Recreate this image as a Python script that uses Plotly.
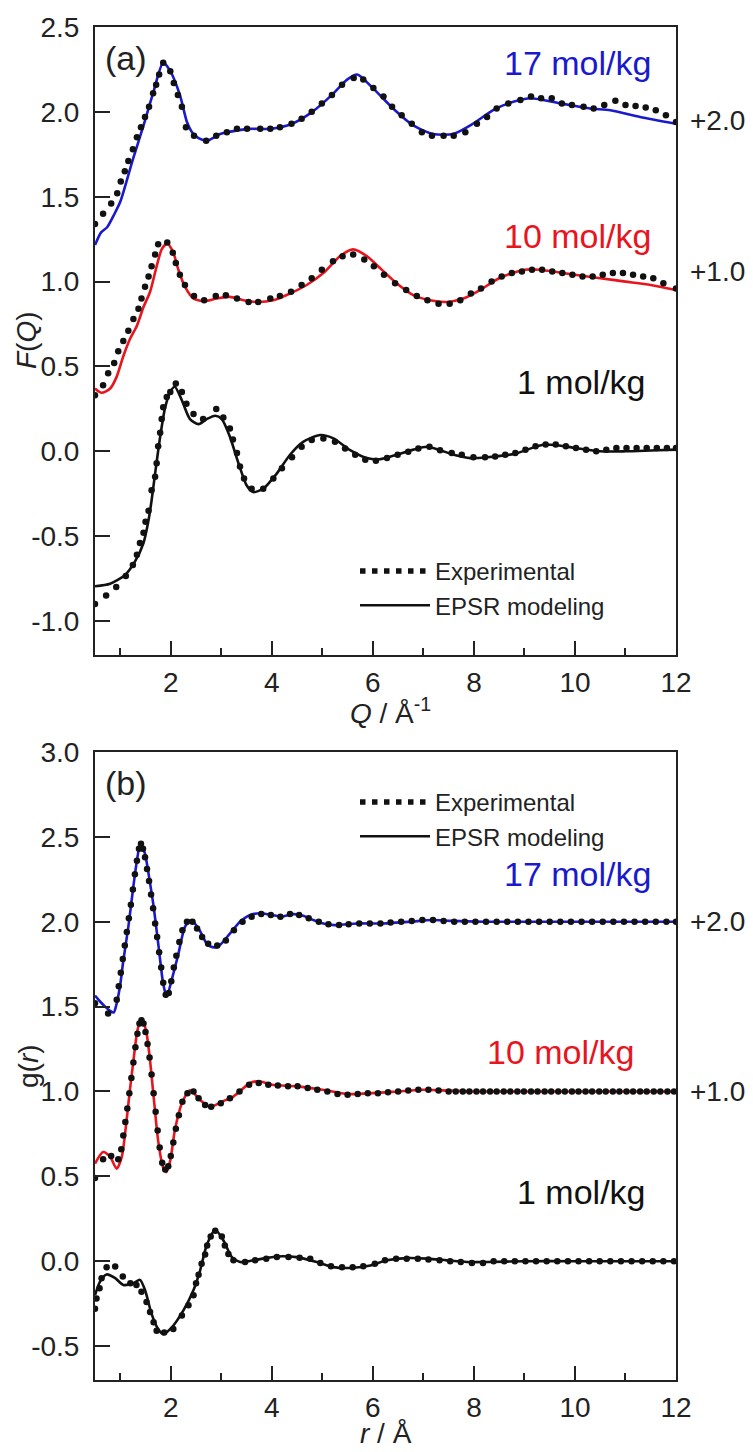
import plotly.graph_objects as go

# ---------------- DATA ----------------
# Panel (a): F(Q), raw values (offsets applied when plotting)
OFFSETS = {"17": 2.0, "10": 1.0, "1": 0.0}

# 17 mol/kg F(Q) – EPSR model
FQ17_MOD_Q = [0.5, 0.62, 0.74, 0.87, 1.0, 1.25, 1.45, 1.65, 1.85, 1.99, 2.18, 2.32, 2.42, 2.55, 2.72, 2.98,
              3.31, 3.57, 3.97, 4.40, 4.80, 5.19, 5.49, 5.69, 6.0, 6.40, 6.80, 7.19, 7.59, 7.98, 8.38, 8.68,
              9.11, 9.71, 10.30, 10.70, 11.29, 12.0]
FQ17_MOD_F = [-0.785, -0.71, -0.68, -0.61, -0.53, -0.28, -0.09, 0.11, 0.29, 0.24, 0.10, -0.06, -0.12, -0.155,
              -0.17, -0.13, -0.11, -0.10, -0.10, -0.07, 0.00, 0.10, 0.19, 0.22, 0.14, 0.02, -0.08, -0.13, -0.13,
              -0.07, 0.01, 0.05, 0.08, 0.05, 0.02, 0.01, -0.03, -0.07]
# 17 mol/kg F(Q) – experimental
FQ17_EXP_Q = [0.5, 0.66, 0.82, 0.94, 1.01, 1.09, 1.16, 1.25, 1.33, 1.41, 1.49, 1.57, 1.65, 1.71, 1.77, 1.85,
              1.99, 2.06, 2.14, 2.22, 2.30, 2.46, 2.70, 2.90, 3.11, 3.31, 3.51, 3.77, 3.97, 4.16, 4.39, 4.59,
              4.79, 4.99, 5.19, 5.39, 5.62, 5.81, 6.01, 6.21, 6.38, 6.57, 6.77, 6.97, 7.17, 7.40, 7.60, 7.83,
              8.06, 8.26, 8.45, 8.68, 8.92, 9.13, 9.33, 9.54, 9.74, 9.94, 10.17, 10.37, 10.58, 10.80, 11.0,
              11.2, 11.4, 11.6, 11.8, 12.0]
FQ17_EXP_F = [-0.66, -0.60, -0.54, -0.48, -0.41, -0.35, -0.29, -0.22, -0.15, -0.09, -0.03, 0.03, 0.11, 0.16,
              0.22, 0.29, 0.24, 0.17, 0.10, 0.03, -0.09, -0.14, -0.17, -0.14, -0.12, -0.10, -0.10, -0.10,
              -0.10, -0.09, -0.07, -0.04, 0.00, 0.05, 0.10, 0.16, 0.20, 0.19, 0.14, 0.09, 0.03, -0.02, -0.07,
              -0.12, -0.14, -0.14, -0.14, -0.12, -0.07, -0.03, 0.02, 0.05, 0.07, 0.09, 0.08, 0.08, 0.05, 0.04,
              0.03, 0.02, 0.04, 0.065, 0.04, 0.035, 0.025, 0.01, -0.02, -0.06]

# 10 mol/kg F(Q)
FQ10_MOD_Q = [0.5, 0.63, 0.80, 0.93, 1.06, 1.19, 1.33, 1.46, 1.59, 1.72, 1.82, 1.93, 2.05, 2.15, 2.28, 2.45,
              2.68, 2.91, 3.17, 3.44, 3.70, 4.03, 4.36, 4.69, 5.02, 5.35, 5.61, 5.88, 6.14, 6.47, 6.80, 7.13,
              7.46, 7.79, 8.12, 8.50, 9.0, 9.3, 10.0, 10.5, 11.0, 11.5, 12.0]
FQ10_MOD_F = [-0.63, -0.655, -0.63, -0.56, -0.44, -0.34, -0.26, -0.15, -0.06, 0.09, 0.19, 0.225, 0.17, 0.07,
              -0.03, -0.10, -0.115, -0.10, -0.09, -0.11, -0.12, -0.11, -0.07, -0.02, 0.05, 0.15, 0.19, 0.15,
              0.08, -0.01, -0.08, -0.11, -0.12, -0.10, -0.05, 0.02, 0.07, 0.07, 0.04, 0.02, 0.00, -0.02, -0.05]
FQ10_EXP_Q = [0.5, 0.66, 0.76, 0.88, 0.96, 1.06, 1.16, 1.26, 1.36, 1.42, 1.49, 1.56, 1.62, 1.69, 1.75, 1.93,
              2.04, 2.10, 2.18, 2.28, 2.46, 2.66, 2.89, 3.09, 3.31, 3.54, 3.73, 3.97, 4.16, 4.38, 4.59, 4.79,
              4.99, 5.21, 5.40, 5.61, 5.83, 6.02, 6.22, 6.44, 6.66, 6.87, 7.08, 7.30, 7.52, 7.73, 7.94, 8.14,
              8.35, 8.55, 8.75, 8.95, 9.15, 9.35, 9.55, 9.75, 9.95, 10.15, 10.35, 10.55, 10.75, 10.95, 11.15,
              11.35, 11.55, 11.75, 12.0]
FQ10_EXP_F = [-0.67, -0.61, -0.54, -0.48, -0.41, -0.35, -0.29, -0.22, -0.16, -0.10, -0.03, 0.03, 0.09, 0.16,
              0.22, 0.23, 0.17, 0.11, 0.04, -0.02, -0.085, -0.11, -0.085, -0.08, -0.10, -0.12, -0.12, -0.10,
              -0.085, -0.06, -0.02, 0.02, 0.07, 0.12, 0.15, 0.16, 0.13, 0.09, 0.04, -0.01, -0.05, -0.085,
              -0.11, -0.13, -0.13, -0.11, -0.07, -0.04, 0.00, 0.03, 0.05, 0.06, 0.07, 0.07, 0.06, 0.05, 0.04,
              0.03, 0.03, 0.04, 0.05, 0.05, 0.04, 0.03, 0.02, -0.01, -0.04]

# 1 mol/kg F(Q)
FQ1_MOD_Q = [0.5, 0.80, 1.09, 1.29, 1.46, 1.56, 1.62, 1.69, 1.79, 1.89, 1.99, 2.08, 2.22, 2.38, 2.55, 2.71,
             2.88, 3.01, 3.17, 3.34, 3.50, 3.63, 3.83, 4.10, 4.36, 4.62, 4.96, 5.22, 5.55, 5.88, 6.14, 6.47,
             6.80, 7.07, 7.33, 7.60, 7.93, 8.26, 8.8, 9.4, 10.0, 10.5, 11.0, 11.5, 12.0]
FQ1_MOD_F = [-0.795, -0.78, -0.73, -0.65, -0.54, -0.405, -0.29, -0.13, 0.086, 0.26, 0.35, 0.38, 0.30, 0.19,
             0.16, 0.19, 0.21, 0.19, 0.086, -0.07, -0.20, -0.24, -0.22, -0.13, -0.02, 0.056, 0.096, 0.076,
             0.007, -0.04, -0.047, -0.02, 0.01, 0.027, 0.007, -0.02, -0.04, -0.035, -0.015, 0.04, 0.02, 0.0,
             0.0, 0.005, 0.01]
FQ1_EXP_Q = [0.5, 0.72, 0.92, 1.11, 1.25, 1.33, 1.39, 1.46, 1.50, 1.56, 1.62, 1.69, 1.72, 1.75, 1.79, 1.82,
             1.85, 1.92, 1.99, 2.10, 2.22, 2.31, 2.45, 2.64, 2.90, 3.04, 3.17, 3.23, 3.31, 3.37, 3.45, 3.60,
             3.83, 4.03, 4.20, 4.40, 4.59, 4.79, 5.02, 5.25, 5.45, 5.65, 5.85, 6.06, 6.28, 6.49, 6.70, 6.90,
             7.12, 7.33, 7.56, 7.76, 7.99, 8.22, 8.42, 8.62, 8.82, 9.02, 9.22, 9.42, 9.62, 9.82, 10.02, 10.22,
             10.42, 10.62, 10.82, 11.02, 11.22, 11.42, 11.62, 11.82, 12.0]
FQ1_EXP_F = [-0.90, -0.85, -0.80, -0.735, -0.67, -0.61, -0.54, -0.48, -0.415, -0.35, -0.23, -0.15, -0.07,
             0.03, 0.11, 0.19, 0.26, 0.32, 0.35, 0.40, 0.35, 0.28, 0.22, 0.19, 0.25, 0.20, 0.135, 0.07, -0.01,
             -0.09, -0.16, -0.22, -0.22, -0.16, -0.10, -0.035, 0.027, 0.067, 0.076, 0.056, 0.017, -0.02,
             -0.05, -0.055, -0.04, -0.02, -0.003, 0.017, 0.027, 0.007, -0.01, -0.02, -0.035, -0.035, -0.03,
             -0.02, -0.01, 0.01, 0.03, 0.04, 0.04, 0.03, 0.02, 0.01, 0.0, 0.01, 0.02, 0.02, 0.02, 0.02, 0.02,
             0.02, 0.02]

# Panel (b): g(r)
GR17_MOD_R = [0.5, 0.6, 0.7, 0.8, 0.87, 0.93, 1.0, 1.06, 1.16, 1.26, 1.33, 1.40, 1.49, 1.58, 1.66, 1.76,
              1.85, 1.92, 2.02, 2.15, 2.28, 2.40, 2.55, 2.74, 2.92, 3.17, 3.37, 3.57, 3.77, 4.0, 4.2, 4.43,
              4.62, 4.82, 5.02, 5.25, 5.48, 5.68, 6.2, 6.74, 7.17, 7.53, 8.2, 9.0, 10.0, 11.0, 12.0]
GR17_MOD_G = [-0.435, -0.47, -0.50, -0.525, -0.535, -0.48, -0.37, -0.23, -0.03, 0.21, 0.36, 0.465, 0.40,
              0.245, 0.09, -0.15, -0.365, -0.44, -0.34, -0.19, -0.03, 0.01, -0.04, -0.14, -0.15, -0.07, 0.0,
              0.04, 0.05, 0.04, 0.03, 0.045, 0.035, 0.01, -0.01, -0.02, -0.015, -0.01, -0.01, 0.0, 0.01,
              0.005, 0.0, 0.0, 0.0, 0.0, 0.0]
GR17_EXP_R = [0.50, 0.76, 0.93, 0.97, 1.01, 1.05, 1.09, 1.13, 1.17, 1.21, 1.25, 1.29, 1.33, 1.37, 1.41, 1.45,
              1.49, 1.53, 1.57, 1.61, 1.65, 1.69, 1.73, 1.77, 1.81, 1.85, 1.90, 1.96, 2.01, 2.06, 2.11, 2.17,
              2.23, 2.32, 2.43, 2.52, 2.62, 2.74, 2.92, 3.09, 3.25, 3.42, 3.60, 3.79, 3.98, 4.17, 4.36, 4.54,
              4.73, 4.93, 5.12, 5.33, 5.52, 5.73, 5.94, 6.15, 6.35, 6.56, 6.77, 6.98, 7.19, 7.40, 7.61, 7.82,
              8.03, 8.24, 8.45, 8.66, 8.87, 9.08, 9.29, 9.50, 9.71, 9.92, 10.13, 10.34, 10.55, 10.76, 10.97,
              11.18, 11.39, 11.60, 11.81, 12.0]
GR17_EXP_G = [-0.48, -0.54, -0.46, -0.38, -0.30, -0.22, -0.14, -0.06, 0.02, 0.10, 0.19, 0.28, 0.36, 0.43,
              0.46, 0.43, 0.38, 0.31, 0.24, 0.16, 0.08, -0.01, -0.09, -0.18, -0.27, -0.36, -0.43, -0.42, -0.35,
              -0.27, -0.20, -0.12, -0.05, 0.0, 0.0, -0.04, -0.09, -0.13, -0.14, -0.11, -0.05, 0.0, 0.03, 0.045,
              0.04, 0.03, 0.045, 0.04, 0.02, 0.0, -0.015, -0.02, -0.015, -0.01, -0.01, -0.01, -0.005, 0.0,
              0.005, 0.01, 0.01, 0.005, 0.0, 0.0, 0.0, 0.0, 0.0, 0.0, 0.0, 0.0, 0.0, 0.0, 0.0, 0.0, 0.0, 0.0,
              0.0, 0.0, 0.0, 0.0, 0.0, 0.0, 0.0, 0.0]

GR10_MOD_R = [0.5, 0.66, 0.80, 0.93, 1.03, 1.11, 1.19, 1.26, 1.34, 1.42, 1.51, 1.59, 1.67, 1.75, 1.85, 1.91,
              1.99, 2.08, 2.22, 2.38, 2.58, 2.78, 3.01, 3.24, 3.57, 3.75, 4.0, 4.5, 5.0, 5.5, 6.0, 6.5, 7.0,
              7.5, 8.0, 9.0, 10.0, 11.0, 12.0]
GR10_MOD_G = [-0.425, -0.357, -0.386, -0.455, -0.386, -0.21, 0.007, 0.18, 0.36, 0.43, 0.36, 0.18, -0.06,
              -0.29, -0.45, -0.475, -0.406, -0.23, -0.07, 0.007, -0.05, -0.09, -0.06, -0.03, 0.05, 0.06, 0.04,
              0.03, 0.01, -0.015, -0.01, 0.0, 0.01, 0.005, 0.0, 0.0, 0.0, 0.0, 0.0]
GR10_EXP_R = [0.50, 0.66, 0.82, 0.96, 1.02, 1.06, 1.10, 1.14, 1.18, 1.22, 1.26, 1.30, 1.34, 1.38, 1.42, 1.46,
              1.50, 1.54, 1.58, 1.62, 1.66, 1.70, 1.74, 1.78, 1.83, 1.89, 1.95, 2.00, 2.05, 2.10, 2.16, 2.23,
              2.33, 2.45, 2.55, 2.68, 2.80, 2.99, 3.17, 3.36, 3.55, 3.74, 3.93, 4.12, 4.32, 4.51, 4.71, 4.90,
              5.10, 5.30, 5.50, 5.70, 5.90, 6.10, 6.30, 6.50, 6.70, 6.90, 7.10, 7.30, 7.50, 7.64, 7.78, 7.91,
              8.05, 8.18, 8.32, 8.45, 8.59, 8.72, 8.86, 8.99, 9.13, 9.26, 9.40, 9.53, 9.67, 9.80, 9.94, 10.07,
              10.21, 10.34, 10.48, 10.61, 10.75, 10.88, 11.02, 11.15, 11.29, 11.42, 11.56, 11.69, 11.83, 11.96]
GR10_EXP_G = [-0.51, -0.40, -0.38, -0.40, -0.34, -0.26, -0.18, -0.10, -0.01, 0.08, 0.17, 0.26, 0.34, 0.40,
              0.42, 0.40, 0.35, 0.28, 0.20, 0.10, -0.01, -0.12, -0.23, -0.33, -0.42, -0.46, -0.44, -0.38,
              -0.30, -0.22, -0.14, -0.06, -0.01, 0.0, -0.04, -0.08, -0.09, -0.07, -0.04, 0.0, 0.04, 0.05, 0.04,
              0.035, 0.03, 0.03, 0.02, 0.01, 0.0, -0.015, -0.02, -0.015, -0.01, -0.01, -0.005, 0.0, 0.005,
              0.01, 0.01, 0.005, 0.0, 0.0, 0.0, 0.0, 0.0, 0.0, 0.0, 0.0, 0.0, 0.0, 0.0, 0.0, 0.0, 0.0, 0.0,
              0.0, 0.0, 0.0, 0.0, 0.0, 0.0, 0.0, 0.0, 0.0, 0.0, 0.0, 0.0, 0.0, 0.0, 0.0, 0.0, 0.0, 0.0, 0.0]

GR1_MOD_R = [0.5, 0.60, 0.73, 0.90, 1.06, 1.26, 1.39, 1.49, 1.62, 1.75, 1.85, 2.02, 2.25, 2.45, 2.58, 2.71,
             2.88, 3.04, 3.21, 3.37, 3.70, 4.10, 4.49, 4.89, 5.22, 5.61, 5.95, 6.28, 6.67, 7.07, 7.46, 7.86,
             8.26, 9.0, 10.0, 11.0, 12.0]
GR1_MOD_G = [-0.20, -0.12, -0.078, -0.10, -0.14, -0.13, -0.11, -0.17, -0.31, -0.40, -0.43, -0.39, -0.29,
             -0.17, -0.055, 0.093, 0.185, 0.123, 0.024, -0.005, 0.009, 0.028, 0.024, -0.005, -0.035, -0.039,
             -0.025, 0.005, 0.018, 0.015, 0.005, -0.005, -0.005, 0.0, 0.0, 0.0, 0.0]
GR1_EXP_R = [0.50, 0.53, 0.59, 0.63, 0.73, 0.90, 1.05, 1.20, 1.32, 1.42, 1.52, 1.59, 1.66, 1.72, 1.87, 2.05,
             2.22, 2.35, 2.45, 2.50, 2.55, 2.61, 2.68, 2.72, 2.79, 2.88, 3.01, 3.07, 3.14, 3.24, 3.47, 3.67,
             3.89, 4.10, 4.33, 4.55, 4.76, 4.96, 5.17, 5.39, 5.60, 5.81, 6.04, 6.24, 6.46, 6.67, 6.89, 7.10,
             7.32, 7.53, 7.74, 7.96, 8.18, 8.39, 8.60, 8.81, 9.02, 9.23, 9.44, 9.65, 9.86, 10.07, 10.28,
             10.49, 10.70, 10.91, 11.12, 11.33, 11.54, 11.75, 11.96]
GR1_EXP_G = [-0.28, -0.22, -0.16, -0.10, -0.035, -0.031, -0.09, -0.13, -0.14, -0.18, -0.24, -0.30, -0.36,
             -0.41, -0.42, -0.40, -0.32, -0.26, -0.20, -0.13, -0.08, -0.015, 0.04, 0.093, 0.146, 0.18, 0.146,
             0.093, 0.043, 0.005, -0.005, 0.005, 0.015, 0.024, 0.024, 0.02, 0.015, -0.011, -0.03, -0.035,
             -0.035, -0.03, -0.015, 0.005, 0.015, 0.015, 0.015, 0.01, 0.005, 0.0, -0.005, -0.01, -0.01, 0.0,
             0.0, 0.0, 0.0, 0.0, 0.0, 0.0, 0.0, 0.0, 0.0, 0.0, 0.0, 0.0, 0.0, 0.0, 0.0, 0.0, 0.0]

SERIES_LABELS = ["17 mol/kg", "10 mol/kg", "1 mol/kg"]
OFFSET_LABELS = ["+2.0", "+1.0"]
LEGEND_NAMES = ["Experimental", "EPSR modeling"]
X_TICKS = [2, 4, 6, 8, 10, 12]
X_MINOR = [1, 3, 5, 7, 9, 11]
YA_TICKS = [-1.0, -0.5, 0.0, 0.5, 1.0, 1.5, 2.0, 2.5]
YA_TEXT = ["-1.0", "-0.5", "0.0", "0.5", "1.0", "1.5", "2.0", "2.5"]
YB_TICKS = [-0.5, 0.0, 0.5, 1.0, 1.5, 2.0, 2.5, 3.0]
YB_TEXT = ["-0.5", "0.0", "0.5", "1.0", "1.5", "2.0", "2.5", "3.0"]

# ---------------- STYLE ----------------
W, H = 753, 1452
BLUE = "#1a1acc"
RED = "#e8141e"
BLACK = "#111111"
AX = "#222222"
FONT = "Liberation Sans, Arial, sans-serif"

fig = go.Figure()


def add_series(xm, ym, xe, ye, off, color, xa, ya):
    fig.add_trace(go.Scatter(x=xm, y=[v + off for v in ym], mode="lines",
                             line=dict(color=color, width=2.6, shape="spline", smoothing=0.7),
                             xaxis=xa, yaxis=ya, showlegend=False, hoverinfo="skip"))
    fig.add_trace(go.Scatter(x=xe, y=[v + off for v in ye], mode="markers",
                             marker=dict(color=BLACK, size=6.5, line=dict(width=0)),
                             xaxis=xa, yaxis=ya, showlegend=False, hoverinfo="skip", cliponaxis=True))


add_series(FQ17_MOD_Q, FQ17_MOD_F, FQ17_EXP_Q, FQ17_EXP_F, OFFSETS["17"], BLUE, "x", "y")
add_series(FQ10_MOD_Q, FQ10_MOD_F, FQ10_EXP_Q, FQ10_EXP_F, OFFSETS["10"], RED, "x", "y")
add_series(FQ1_MOD_Q, FQ1_MOD_F, FQ1_EXP_Q, FQ1_EXP_F, OFFSETS["1"], BLACK, "x", "y")
add_series(GR17_MOD_R, GR17_MOD_G, GR17_EXP_R, GR17_EXP_G, OFFSETS["17"], BLUE, "x2", "y2")
add_series(GR10_MOD_R, GR10_MOD_G, GR10_EXP_R, GR10_EXP_G, OFFSETS["10"], RED, "x2", "y2")
add_series(GR1_MOD_R, GR1_MOD_G, GR1_EXP_R, GR1_EXP_G, OFFSETS["1"], BLACK, "x2", "y2")

# legend entries (one legend per panel)
for lg, xa, ya in [("legend", "x", "y"), ("legend2", "x2", "y2")]:
    fig.add_trace(go.Scatter(x=[None], y=[None], mode="lines", name=LEGEND_NAMES[0], xaxis=xa, yaxis=ya,
                             line=dict(color=BLACK, width=5.5, dash="5.5px,6.5px"), legend=lg))
    fig.add_trace(go.Scatter(x=[None], y=[None], mode="lines", name=LEGEND_NAMES[1], xaxis=xa, yaxis=ya,
                             line=dict(color=BLACK, width=2.6), legend=lg))

# ---------------- LAYOUT ----------------
XDOM = [95 / W, 676 / W]
YA_DOM = [1 - 655 / H, 1 - 27 / H]
YB_DOM = [1 - 1380 / H, 1 - 752 / H]

xcommon = dict(range=[0.5, 12], tickvals=X_TICKS, ticks="inside", ticklen=14, tickwidth=2,
               tickcolor=AX, showline=True, linecolor=AX, linewidth=2, mirror=True,
               showgrid=False, zeroline=False, tickfont=dict(family=FONT, size=28, color=AX),
               minor=dict(tickvals=X_MINOR, ticks="inside", ticklen=7, tickwidth=2, tickcolor=AX),
               ticklabelstandoff=1, domain=XDOM, automargin=False)
ycommon = dict(ticks="inside", ticklen=15, tickwidth=2, tickcolor=AX, showline=True, linecolor=AX,
               linewidth=2, mirror=True, showgrid=False, zeroline=False,
               tickfont=dict(family=FONT, size=28, color=AX), ticklabelstandoff=8, automargin=False)

legend_common = dict(xanchor="left", yanchor="top", bgcolor="rgba(0,0,0,0)", itemwidth=70,
                     font=dict(family=FONT, size=24, color=AX), tracegroupgap=0, itemclick=False)

fig.update_layout(
    width=W, height=H, margin=dict(l=0, r=0, t=0, b=0, autoexpand=False),
    paper_bgcolor="white", plot_bgcolor="white",
    xaxis=dict(anchor="y", **xcommon),
    yaxis=dict(anchor="x", domain=YA_DOM, range=[-1.2, 2.5], tickvals=YA_TICKS, ticktext=YA_TEXT, **ycommon),
    xaxis2=dict(anchor="y2", **xcommon),
    yaxis2=dict(anchor="x2", domain=YB_DOM, range=[-0.7, 3.0], tickvals=YB_TICKS, ticktext=YB_TEXT, **ycommon),
    legend=dict(x=355 / W, y=1 - 549 / H, **legend_common),
    legend2=dict(x=355 / W, y=1 - 780 / H, **legend_common),
    showlegend=True,
)

ann = []
big = dict(family=FONT, size=34)
small = dict(family=FONT, size=28, color=AX)
# panel (a) labels
ann.append(dict(text="(a)", x=103 / W, xref="paper", xanchor="left", y=2.32, yref="y",
                font=dict(family=FONT, size=34, color=AX), showarrow=False))
ann.append(dict(text=SERIES_LABELS[0], x=11.55, xref="x", xanchor="right", y=2.29, yref="y",
                font=dict(color=BLUE, **big), showarrow=False))
ann.append(dict(text=SERIES_LABELS[1], x=11.55, xref="x", xanchor="right", y=1.27, yref="y",
                font=dict(color=RED, **big), showarrow=False))
ann.append(dict(text=SERIES_LABELS[2], x=11.45, xref="x", xanchor="right", y=0.41, yref="y",
                font=dict(color=BLACK, **big), showarrow=False))
ann.append(dict(text=OFFSET_LABELS[0], x=688 / W, xref="paper", xanchor="left", y=1.95, yref="y",
                font=small, showarrow=False))
ann.append(dict(text=OFFSET_LABELS[1], x=688 / W, xref="paper", xanchor="left", y=1.06, yref="y",
                font=small, showarrow=False))
ann.append(dict(text="<i>F</i>(<i>Q</i>)", x=26 / W, xref="paper", xanchor="center", y=1 - 340 / H,
                yref="paper", yanchor="middle", textangle=-90, font=small, showarrow=False))
ann.append(dict(text="<i>Q</i> / Å<sup>-1</sup>", x=390 / W, xref="paper", xanchor="center",
                y=1 - 711 / H, yref="paper", yanchor="middle", font=small, showarrow=False))
# panel (b) labels
ann.append(dict(text="(b)", x=103 / W, xref="paper", xanchor="left", y=2.82, yref="y2",
                font=dict(family=FONT, size=34, color=AX), showarrow=False))
ann.append(dict(text=SERIES_LABELS[0], x=11.55, xref="x2", xanchor="right", y=2.28, yref="y2",
                font=dict(color=BLUE, **big), showarrow=False))
ann.append(dict(text=SERIES_LABELS[1], x=11.2, xref="x2", xanchor="right", y=1.23, yref="y2",
                font=dict(color=RED, **big), showarrow=False))
ann.append(dict(text=SERIES_LABELS[2], x=11.45, xref="x2", xanchor="right", y=0.41, yref="y2",
                font=dict(color=BLACK, **big), showarrow=False))
ann.append(dict(text=OFFSET_LABELS[0], x=688 / W, xref="paper", xanchor="left", y=2.0, yref="y2",
                font=small, showarrow=False))
ann.append(dict(text=OFFSET_LABELS[1], x=688 / W, xref="paper", xanchor="left", y=1.0, yref="y2",
                font=small, showarrow=False))
ann.append(dict(text="g(<i>r</i>)", x=28 / W, xref="paper", xanchor="center", y=1 - 1066 / H,
                yref="paper", yanchor="middle", textangle=-90, font=small, showarrow=False))
ann.append(dict(text="<i>r</i> / Å", x=386 / W, xref="paper", xanchor="center",
                y=0, yref="paper", yanchor="bottom", yshift=1, font=small, showarrow=False))
fig.update_layout(annotations=ann)

fig.write_html("out.html")
